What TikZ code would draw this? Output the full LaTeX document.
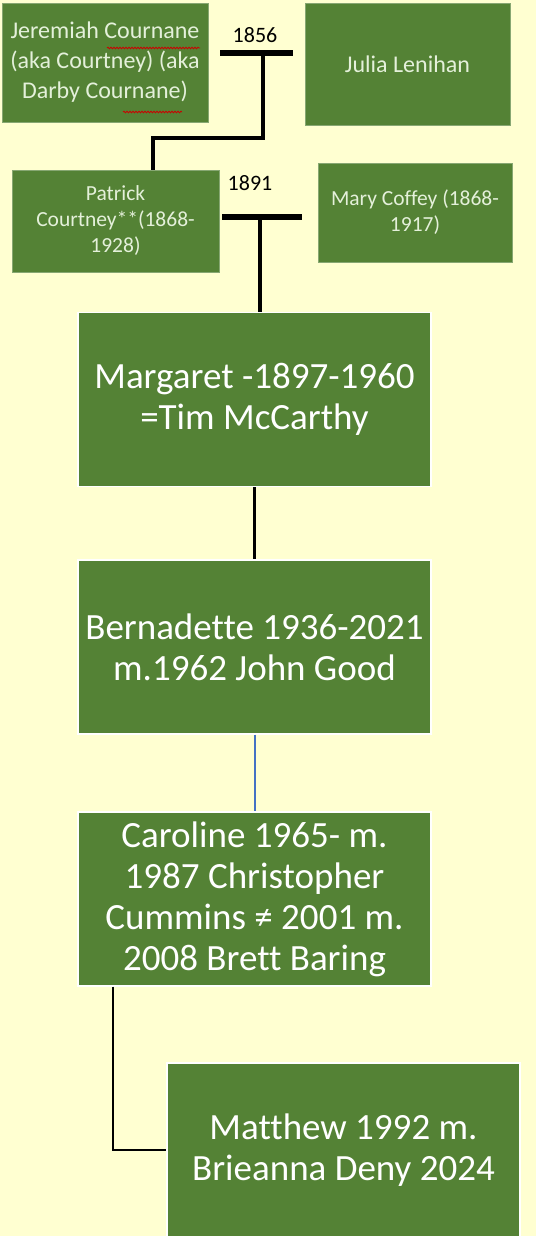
\documentclass[tikz,border=0pt]{standalone}
\usepackage{fontspec}
\setmainfont{Carlito}[Ligatures={NoCommon}]
\usetikzlibrary{decorations.pathmorphing}
\definecolor{bg}{HTML}{FFFFD1}
\definecolor{leaf}{HTML}{548235}
\definecolor{paletext}{HTML}{E4F0DA}
\definecolor{bluelink}{HTML}{4472C4}
\begin{document}
\begin{tikzpicture}[x=1pt,y=-1pt,
  box/.style={fill=leaf, draw=white, line width=1.2pt, inner sep=0pt, text=white, align=center,
              font=\fontsize{37}{41}\selectfont, minimum width=353pt, minimum height=174pt},
  oldbox/.style={fill=leaf, draw=leaf!70!white, line width=0.6pt, inner sep=0pt, text=paletext, align=center},
  year/.style={font=\fontsize{22}{25}\selectfont, text=black, inner sep=0pt},
  bar/.style={line width=5.5pt},
  drop/.style={line width=4pt},
  link/.style={line width=2.5pt},
  spell/.style={red!80!black, line width=0.8pt, decorate,
                decoration={snake, amplitude=0.8pt, segment length=3pt}}
]
\fill[bg] (0,0) rectangle (536,1236);
\useasboundingbox (0,0) rectangle (536,1236);

% first generation
\node[oldbox, minimum width=206pt, minimum height=119pt, font=\fontsize{24}{30}\selectfont]
  (jer) at (105,62.5) {Jeremiah Cournane\\(aka Courtney) (aka\\Darby Cournane)};
\node[oldbox, minimum width=205pt, minimum height=122pt, font=\fontsize{24}{30}\selectfont]
  (jul) at (407.5,64) {Julia Lenihan};
\node[year] (y1856) at (255,35) {1856};
\coordinate (b1l) at (220,53);
\coordinate (b1r) at (293,53);
\coordinate (b1) at (263,53);
\coordinate (j1) at (153,138);
\draw[spell] (107,48) -- (200,48);
\draw[spell] (123,112) -- (182,112);

% second generation
\node[oldbox, minimum width=207pt, minimum height=102pt, font=\fontsize{21.5}{26}\selectfont]
  (pat) at (115.5,221) {Patrick\\Courtney**(1868-\\1928)};
\node[oldbox, minimum width=194pt, minimum height=99pt, font=\fontsize{21.5}{26}\selectfont]
  (mary) at (415,212.5) {Mary Coffey (1868-\\1917)};
\node[year] (y1891) at (250,183) {1891};
\coordinate (b2l) at (222,217);
\coordinate (b2r) at (302,217);
\coordinate (b2) at (260,217);

% later generations
\node[box] (marg) at (254.5,399.5) {Margaret -1897-1960\\=Tim McCarthy};
\node[box] (bern) at (254.5,647) {Bernadette 1936-2021\\m.1962 John Good};
\node[box] (caro) at (254.5,899) {Caroline 1965- m.\\1987 Christopher\\Cummins ≠ 2001 m.\\2008 Brett Baring};
\node[box] (matt) at (343.5,1150) {Matthew 1992 m.\\Brieanna Deny 2024};
\coordinate (c1) at (113,1150);

% connectors
\draw[bar] (b1l) -- (b1r);
\draw[drop] (b1) |- (j1) -- (j1 |- pat.north);
\draw[bar] (b2l) -- (b2r);
\draw[drop] (b2) -- (b2 |- marg.north);
\draw[link, black] (marg.south) -- (bern.north);
\draw[line width=2pt, bluelink] (bern.south) -- (caro.north);
\draw[link, black] (c1 |- caro.south) -- (c1) -- (matt.west);
\end{tikzpicture}
\end{document}
